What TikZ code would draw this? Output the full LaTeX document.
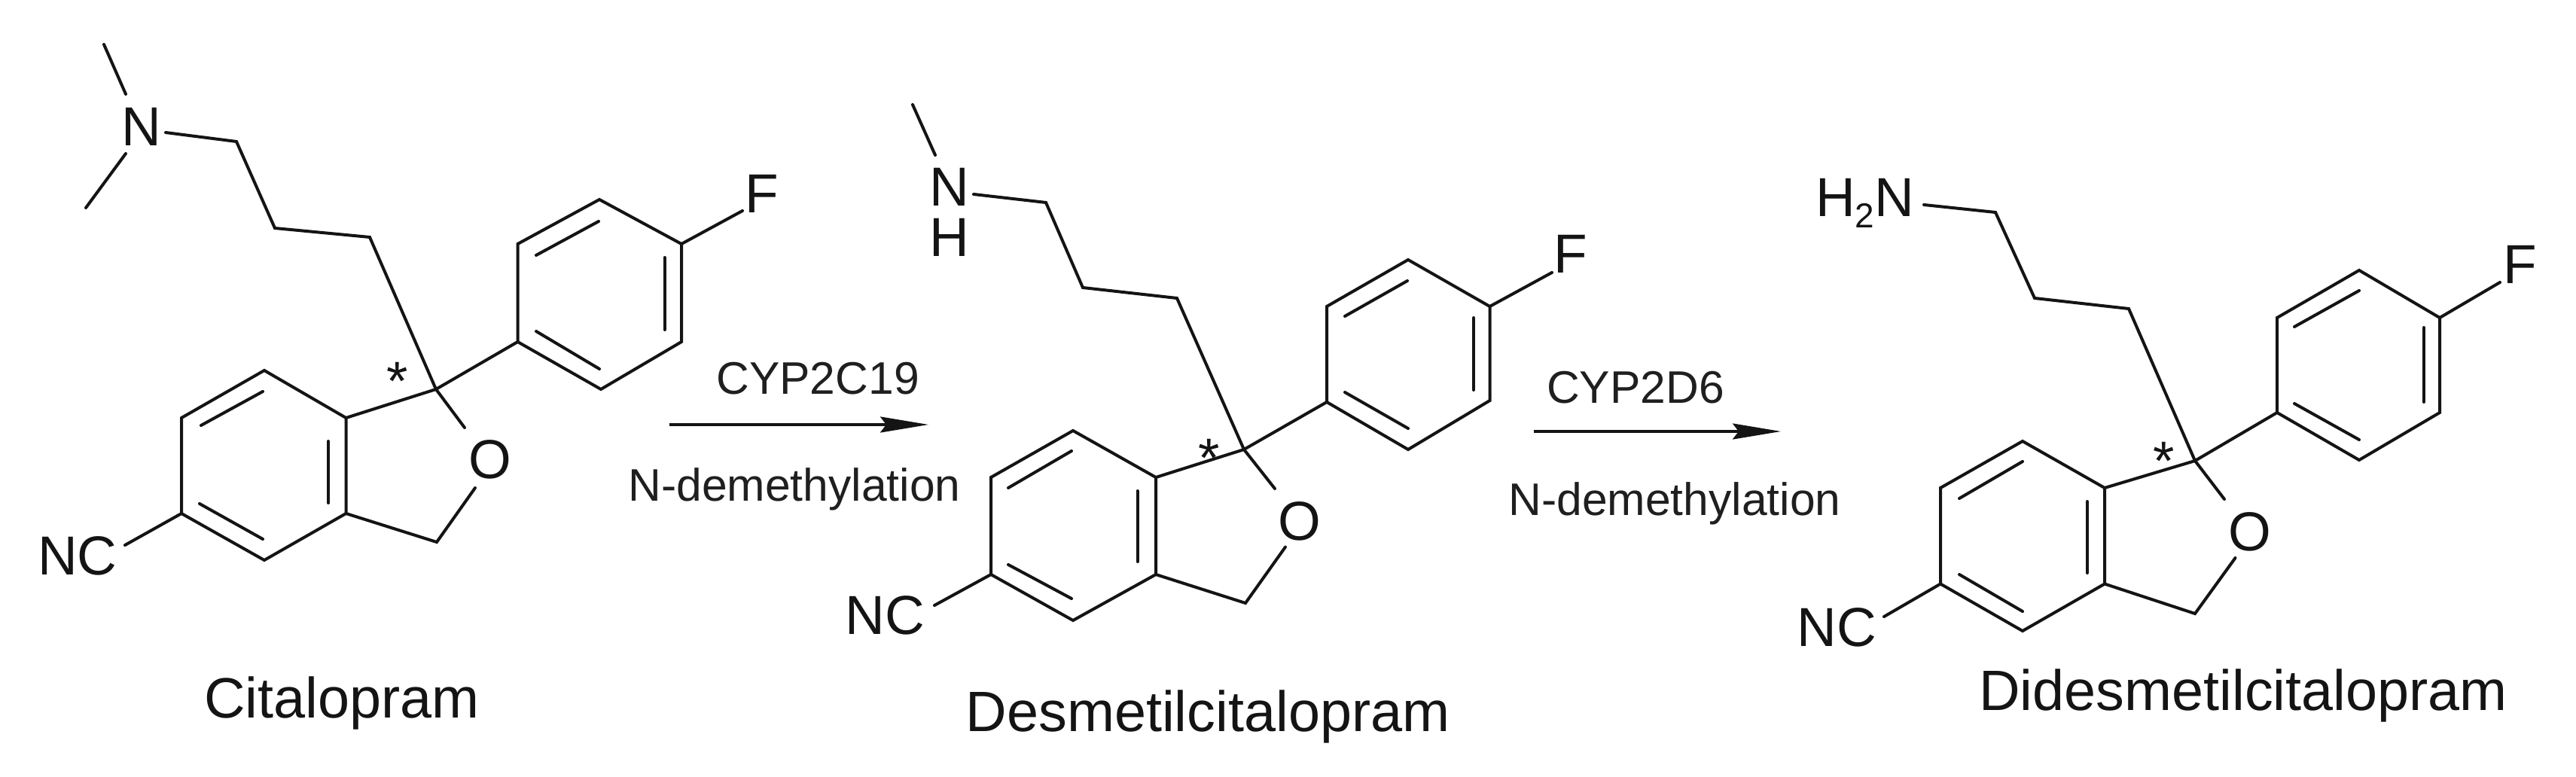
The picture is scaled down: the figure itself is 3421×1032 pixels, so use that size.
\documentclass[tikz,border=0pt]{standalone}
\usepackage{fontspec}
\setmainfont{Liberation Sans}
\usetikzlibrary{arrows.meta}
\newcommand{\atomsize}{\fontsize{73}{77}\selectfont}
\newcommand{\namesize}{\fontsize{75.6}{80}\selectfont}
\newcommand{\enzsize}{\fontsize{60.6}{64}\selectfont}
\tikzset{
  bond/.style={line width=4pt,line cap=round,line join=miter,draw=black!92},
  atomlabel/.style={anchor=base,inner sep=0pt,font=\atomsize,text=black!92},
  compound/.style={anchor=base,inner sep=0pt,font=\namesize,text=black!92},
  enzyme/.style={anchor=base,inner sep=0pt,font=\enzsize,text=black!88},
  reaction/.style={line width=3.5pt,draw=black!92,-{Stealth[length=64pt,width=21pt,inset=8pt]}}
}
\begin{document}
\begin{tikzpicture}[x=1pt,y=-1pt]
\useasboundingbox[fill=white] (0,0) rectangle (3421,1032);
% ---------- Citalopram ----------
\coordinate (aMeA) at (138,59); \coordinate (aMeAe) at (167,125);
\coordinate (aMeB) at (114,276); \coordinate (aMeBe) at (167,204);
\coordinate (aNe) at (220,176); \coordinate (aCa) at (314,188);
\coordinate (aCb) at (365,303); \coordinate (aCc) at (491,315);
\coordinate (aQ) at (579,517); \coordinate (aOa) at (617,568);
\coordinate (aOb) at (631,648); \coordinate (aCH) at (580,720);
\coordinate (a1) at (459.5,555); \coordinate (a2) at (351,492);
\coordinate (a3) at (241,555); \coordinate (a4) at (241,682);
\coordinate (a5) at (351,744); \coordinate (a6) at (459.5,682);
\coordinate (a3i) at (267,565); \coordinate (a2i) at (349,520);
\coordinate (a1i) at (436,586); \coordinate (a6i) at (436,668);
\coordinate (a4i) at (265,669); \coordinate (a5i) at (349,716);
\coordinate (aNCe) at (166,724);
\coordinate (ag) at (687.5,454); \coordinate (ah) at (687.5,324);
\coordinate (ai) at (796,265); \coordinate (aj) at (905,324);
\coordinate (ak) at (905,454); \coordinate (al) at (798,517);
\coordinate (ahi) at (712,339); \coordinate (aii) at (795,294);
\coordinate (aji) at (882.5,342); \coordinate (aki) at (882.5,438);
\coordinate (agi) at (712,440); \coordinate (ali) at (796,490);
\coordinate (aFe) at (986,280);
\draw[bond] (aMeA)--(aMeAe); \draw[bond] (aMeB)--(aMeBe);
\draw[bond] (aNe)--(aCa)--(aCb)--(aCc)--(aQ)--(aOa);
\draw[bond] (aOb)--(aCH)--(a6);
\draw[bond] (a1)--(a2)--(a3)--(a4)--(a5)--(a6)--cycle;
\draw[bond] (a3i)--(a2i); \draw[bond] (a1i)--(a6i); \draw[bond] (a4i)--(a5i);
\draw[bond] (a1)--(aQ)--(ag);
\draw[bond] (aNCe)--(a4);
\draw[bond] (ag)--(ah)--(ai)--(aj)--(ak)--(al)--cycle;
\draw[bond] (ahi)--(aii); \draw[bond] (aji)--(aki); \draw[bond] (agi)--(ali);
\draw[bond] (aj)--(aFe);
\node[atomlabel] (aN) at (188,194) {N};
\node[atomlabel] (aO) at (651,635) {O};
\node[atomlabel] (aF) at (1012,283) {F};
\node[atomlabel] (aNC) at (103,763) {NC};
\node[atomlabel] (aS) at (527.5,531) {*};
\node[compound] (aName) at (454,953) {Citalopram};
% ---------- Desmetilcitalopram ----------
\coordinate (bMeA) at (1212,139); \coordinate (bMeAe) at (1242,206);
\coordinate (bNe) at (1293,258); \coordinate (bCa) at (1389,269);
\coordinate (bCb) at (1438,382); \coordinate (bCc) at (1563,396);
\coordinate (bQ) at (1652,597); \coordinate (bOa) at (1693,649);
\coordinate (bOb) at (1707,726.5); \coordinate (bCH) at (1654,801);
\coordinate (b1) at (1535,634); \coordinate (b2) at (1425,572);
\coordinate (b3) at (1316,634); \coordinate (b4) at (1316,763);
\coordinate (b5) at (1425,824); \coordinate (b6) at (1535,763);
\coordinate (b3i) at (1339,648); \coordinate (b2i) at (1423,599);
\coordinate (b1i) at (1510.5,652); \coordinate (b6i) at (1510.5,746);
\coordinate (b4i) at (1339,750); \coordinate (b5i) at (1423,795);
\coordinate (bNCe) at (1241,804);
\coordinate (bg) at (1762,534); \coordinate (bh) at (1762,407);
\coordinate (bi) at (1870,345); \coordinate (bj) at (1978.5,407);
\coordinate (bk) at (1978.5,532); \coordinate (bl) at (1870,597);
\coordinate (bhi) at (1786,420); \coordinate (bii) at (1869,373);
\coordinate (bji) at (1957,422); \coordinate (bki) at (1957,518);
\coordinate (bgi) at (1786,521); \coordinate (bli) at (1870,569);
\coordinate (bFe) at (2061,362);
\draw[bond] (bMeA)--(bMeAe);
\draw[bond] (bNe)--(bCa)--(bCb)--(bCc)--(bQ)--(bOa);
\draw[bond] (bOb)--(bCH)--(b6);
\draw[bond] (b1)--(b2)--(b3)--(b4)--(b5)--(b6)--cycle;
\draw[bond] (b3i)--(b2i); \draw[bond] (b1i)--(b6i); \draw[bond] (b4i)--(b5i);
\draw[bond] (b1)--(bQ)--(bg);
\draw[bond] (bNCe)--(b4);
\draw[bond] (bg)--(bh)--(bi)--(bj)--(bk)--(bl)--cycle;
\draw[bond] (bhi)--(bii); \draw[bond] (bji)--(bki); \draw[bond] (bgi)--(bli);
\draw[bond] (bj)--(bFe);
\node[atomlabel] (bN) at (1261,274) {N};
\node[atomlabel] (bH) at (1261,340) {H};
\node[atomlabel] (bO) at (1726,717) {O};
\node[atomlabel] (bF) at (2086,362) {F};
\node[atomlabel] (bNC) at (1175.5,842) {NC};
\node[atomlabel] (bS) at (1605.5,633) {*};
\node[compound] (bName) at (1604,971) {Desmetilcitalopram};
% ---------- Didesmetilcitalopram ----------
\coordinate (cNe) at (2555,272); \coordinate (cCa) at (2650,282);
\coordinate (cCb) at (2702,396); \coordinate (cCc) at (2827,410);
\coordinate (cQ) at (2915,612); \coordinate (cOa) at (2954,663);
\coordinate (cOb) at (2968.5,741); \coordinate (cCH) at (2915,815);
\coordinate (c1) at (2795,648); \coordinate (c2) at (2686,586);
\coordinate (c3) at (2577,648); \coordinate (c4) at (2577,775.5);
\coordinate (c5) at (2686,838); \coordinate (c6) at (2795,775.5);
\coordinate (c3i) at (2602,662); \coordinate (c2i) at (2686,613);
\coordinate (c1i) at (2772,666); \coordinate (c6i) at (2772,761);
\coordinate (c4i) at (2602,763); \coordinate (c5i) at (2686,812);
\coordinate (cNCe) at (2502,819);
\coordinate (cg) at (3024,548); \coordinate (ch) at (3024,422);
\coordinate (ci) at (3133,359); \coordinate (cj) at (3240,422);
\coordinate (ck) at (3240,548); \coordinate (cl) at (3133,611);
\coordinate (chi) at (3047,434); \coordinate (cii) at (3133,386);
\coordinate (cji) at (3219,435); \coordinate (cki) at (3219,534);
\coordinate (cgi) at (3047,536); \coordinate (cli) at (3133,584);
\coordinate (cFe) at (3320,375);
\draw[bond] (cNe)--(cCa)--(cCb)--(cCc)--(cQ)--(cOa);
\draw[bond] (cOb)--(cCH)--(c6);
\draw[bond] (c1)--(c2)--(c3)--(c4)--(c5)--(c6)--cycle;
\draw[bond] (c3i)--(c2i); \draw[bond] (c1i)--(c6i); \draw[bond] (c4i)--(c5i);
\draw[bond] (c1)--(cQ)--(cg);
\draw[bond] (cNCe)--(c4);
\draw[bond] (cg)--(ch)--(ci)--(cj)--(ck)--(cl)--cycle;
\draw[bond] (chi)--(cii); \draw[bond] (cji)--(cki); \draw[bond] (cgi)--(cli);
\draw[bond] (cj)--(cFe);
\node[atomlabel,anchor=base west] (cN) at (2411,288) {H\raisebox{-15pt}{\fontsize{46}{50}\selectfont 2}N};
\node[atomlabel] (cO) at (2988,731) {O};
\node[atomlabel] (cF) at (3347,376) {F};
\node[atomlabel] (cNC) at (2439,858) {NC};
\node[atomlabel] (cS) at (2873.5,637) {*};
\node[compound] (cName) at (2979,943) {Didesmetilcitalopram};
% ---------- Reactions ----------
\coordinate (r1s) at (889,564); \coordinate (r1t) at (1233,564);
\coordinate (r2s) at (2037,573); \coordinate (r2t) at (2365,573);
\draw[reaction] (r1s)--(r1t);
\draw[reaction] (r2s)--(r2t);
\node[enzyme] (r1a) at (1086,523) {CYP2C19};
\node[enzyme] (r1b) at (1055,665) {N-demethylation};
\node[enzyme] (r2a) at (2172,535) {CYP2D6};
\node[enzyme] (r2b) at (2224,684) {N-demethylation};
\end{tikzpicture}
\end{document}
